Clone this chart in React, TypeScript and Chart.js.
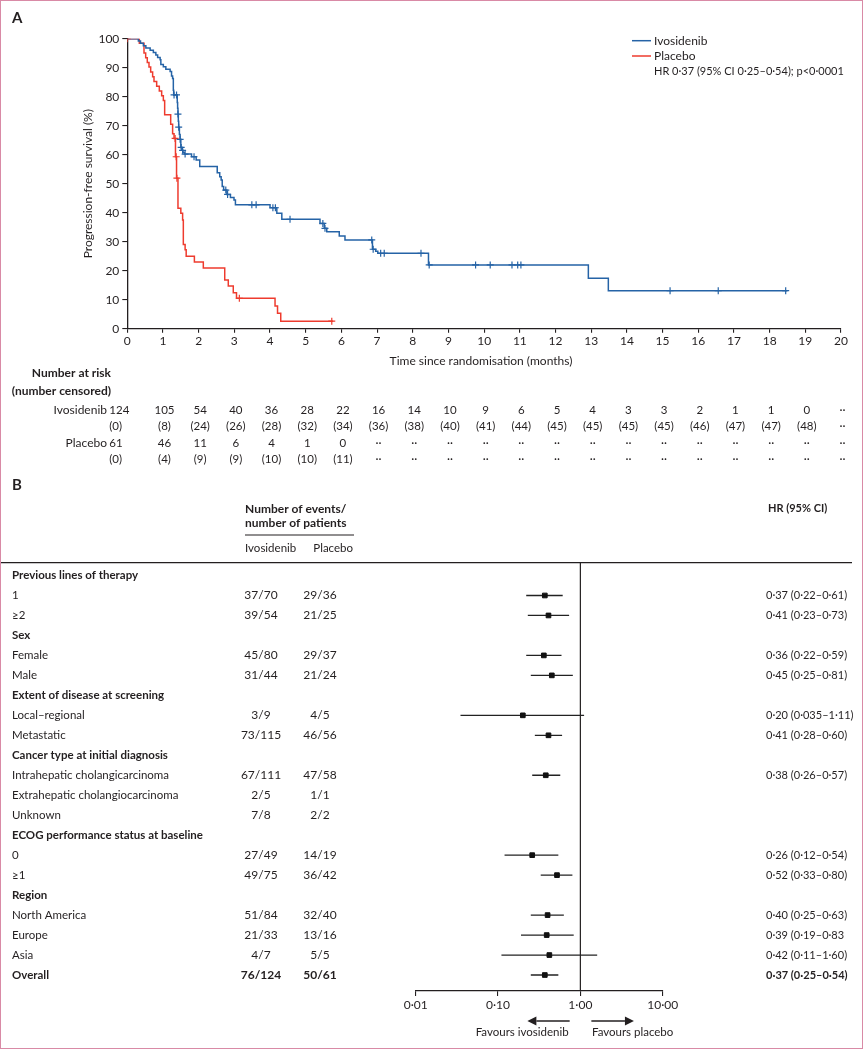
import React, { useEffect, useRef } from "react";
import { Chart, registerables } from "chart.js";

Chart.register(...registerables);

const FONT = "Lato, 'Noto Sans', sans-serif";
const INK = "#231f20";
const BLUE = "#2563a6";
const RED = "#ee3b2e";
const FRAME = "#d98aa6";

// ---------------- Panel A: Kaplan–Meier data ----------------
const kmXTicks = [0, 1, 2, 3, 4, 5, 6, 7, 8, 9, 10, 11, 12, 13, 14, 15, 16, 17, 18, 19, 20];
const kmYTicks = [0, 10, 20, 30, 40, 50, 60, 70, 80, 90, 100];

const ivoTimes = [0, 0.31, 0.37, 0.45, 0.52, 0.64, 0.73, 0.8, 0.85, 0.92, 0.94, 1.01, 1.08, 1.2, 1.24, 1.27, 1.29, 1.3, 1.4, 1.41, 1.42, 1.43, 1.44, 1.46, 1.48, 1.5, 1.53, 1.56, 1.6, 1.8, 1.93, 2.03, 2.52, 2.59, 2.63, 2.66, 2.7, 2.79, 2.89, 2.99, 3.03, 4.0, 4.19, 4.33, 5.4, 5.52, 5.59, 5.94, 6.1, 6.87, 6.96, 7.02, 8.44, 12.92, 13.48, 18.5];
const ivoSurv = [100, 99.2, 98.4, 97.6, 96.8, 96.0, 95.2, 94.4, 93.5, 92.7, 91.1, 90.3, 89.5, 88.7, 87.1, 86.3, 82.2, 80.6, 78.0, 76.0, 74.0, 71.5, 69.5, 67.0, 65.3, 62.5, 61.5, 60.8, 60.2, 59.3, 58.2, 55.9, 53.8, 52.4, 51.3, 49.0, 47.8, 46.3, 45.2, 44.4, 42.7, 41.7, 39.8, 37.7, 36.3, 34.6, 33.4, 32.0, 30.6, 27.4, 26.7, 26.0, 22.0, 17.4, 13.1, 13.1];
const ivoCensorTimes = [1.31, 1.38, 1.42, 1.44, 1.48, 1.51, 1.55, 1.62, 1.87, 2.76, 2.81, 3.49, 3.61, 4.08, 4.15, 4.56, 5.48, 5.54, 6.85, 6.89, 7.1, 7.2, 8.23, 8.46, 9.76, 10.17, 10.78, 10.94, 11.03, 15.21, 16.56, 18.45];

const plaTimes = [0, 0.337, 0.468, 0.515, 0.56, 0.608, 0.655, 0.71, 0.748, 0.823, 0.897, 0.963, 1.01, 1.047, 1.216, 1.27, 1.31, 1.35, 1.38, 1.42, 1.5, 1.55, 1.57, 1.62, 1.65, 1.88, 2.13, 2.73, 2.83, 2.97, 3.06, 4.14, 4.21, 4.3, 5.77];
const plaSurv = [100, 98.4, 95.1, 93.4, 91.8, 90.2, 88.5, 86.9, 85.2, 83.6, 82.0, 80.3, 78.7, 73.8, 70.5, 67.2, 65.6, 59.3, 51.9, 41.5, 39.8, 37.5, 29.0, 27.2, 25.0, 23.0, 20.9, 16.8, 14.7, 12.4, 10.5, 7.8, 5.3, 2.6, 2.6];
const plaCensorTimes = [0, 1.34, 1.37, 1.39, 3.14, 5.73];

const riskIvo = ["124", "105", "54", "40", "36", "28", "22", "16", "14", "10", "9", "6", "5", "4", "3", "3", "2", "1", "1", "0", "··"];
const censIvo = ["(0)", "(8)", "(24)", "(26)", "(28)", "(32)", "(34)", "(36)", "(38)", "(40)", "(41)", "(44)", "(45)", "(45)", "(45)", "(45)", "(46)", "(47)", "(47)", "(48)", "··"];
const riskPla = ["61", "46", "11", "6", "4", "1", "0", "··", "··", "··", "··", "··", "··", "··", "··", "··", "··", "··", "··", "··", "··"];
const censPla = ["(0)", "(4)", "(9)", "(9)", "(10)", "(10)", "(11)", "··", "··", "··", "··", "··", "··", "··", "··", "··", "··", "··", "··", "··", "··"];

// ---------------- Panel B: forest plot data ----------------
const subgroupLabels = [
  "Previous lines of therapy", "1", "≥2",
  "Sex", "Female", "Male",
  "Extent of disease at screening", "Local–regional", "Metastatic",
  "Cancer type at initial diagnosis", "Intrahepatic cholangicarcinoma", "Extrahepatic cholangiocarcinoma", "Unknown",
  "ECOG performance status at baseline", "0", "≥1",
  "Region", "North America", "Europe", "Asia",
  "Overall",
];
const subgroupBold = [true, false, false, true, false, false, true, false, false, true, false, false, false, true, false, false, true, false, false, false, true];
const ivoEvents = ["", "37/70", "39/54", "", "45/80", "31/44", "", "3/9", "73/115", "", "67/111", "2/5", "7/8", "", "27/49", "49/75", "", "51/84", "21/33", "4/7", "76/124"];
const plaEvents = ["", "29/36", "21/25", "", "29/37", "21/24", "", "4/5", "46/56", "", "47/58", "1/1", "2/2", "", "14/19", "36/42", "", "32/40", "13/16", "5/5", "50/61"];
const hrValues = [null, 0.37, 0.41, null, 0.36, 0.45, null, 0.2, 0.41, null, 0.38, null, null, null, 0.26, 0.52, null, 0.4, 0.39, 0.42, 0.37];
const hrLow = [null, 0.22, 0.23, null, 0.22, 0.25, null, 0.035, 0.28, null, 0.26, null, null, null, 0.12, 0.33, null, 0.25, 0.19, 0.11, 0.25];
const hrHigh = [null, 0.61, 0.73, null, 0.59, 0.81, null, 1.11, 0.6, null, 0.57, null, null, null, 0.54, 0.8, null, 0.63, 0.83, 1.6, 0.54];
const hrText = ["", "0·37 (0·22–0·61)", "0·41 (0·23–0·73)", "", "0·36 (0·22–0·59)", "0·45 (0·25–0·81)", "", "0·20 (0·035–1·11)", "0·41 (0·28–0·60)", "", "0·38 (0·26–0·57)", "", "", "", "0·26 (0·12–0·54)", "0·52 (0·33–0·80)", "", "0·40 (0·25–0·63)", "0·39 (0·19–0·83", "0·42 (0·11–1·60)", "0·37 (0·25–0·54)"];
const forestTicks = [0.01, 0.1, 1, 10];
const forestTickLabels = ["0·01", "0·10", "1·00", "10·00"];

// ---------------- helpers ----------------
function stepValue(T: number[], S: number[], t: number): number {
  let v = S[0];
  for (let i = 0; i < T.length; i++) if (T[i] <= t) v = S[i];
  return v;
}

function txt(
  ctx: CanvasRenderingContext2D,
  s: string,
  x: number,
  y: number,
  o: { size?: number; bold?: boolean; align?: CanvasTextAlign; color?: string } = {}
) {
  ctx.save();
  ctx.font = `${o.bold ? "bold " : ""}${o.size || 12}px ${FONT}`;
  ctx.fillStyle = o.color || INK;
  ctx.textAlign = o.align || "left";
  ctx.textBaseline = "middle";
  ctx.fillText(s, x, y);
  ctx.restore();
}

function line(ctx: CanvasRenderingContext2D, x1: number, y1: number, x2: number, y2: number, color: string, w: number) {
  ctx.save();
  ctx.strokeStyle = color;
  ctx.lineWidth = w;
  ctx.beginPath();
  ctx.moveTo(x1, y1);
  ctx.lineTo(x2, y2);
  ctx.stroke();
  ctx.restore();
}

function arrow(ctx: CanvasRenderingContext2D, x1: number, x2: number, y: number) {
  const dir = Math.sign(x2 - x1);
  const head = 9;
  line(ctx, x1, y, x2 - dir * head, y, INK, 1.3);
  ctx.save();
  ctx.fillStyle = INK;
  ctx.beginPath();
  ctx.moveTo(x2, y);
  ctx.lineTo(x2 - dir * head, y - 4.5);
  ctx.lineTo(x2 - dir * head, y + 4.5);
  ctx.closePath();
  ctx.fill();
  ctx.restore();
}

// ---------------- Panel A config ----------------
function kmConfig(): any {
  const curve = (T: number[], S: number[], color: string) => ({
    type: "line",
    data: T.map((t, i) => ({ x: t, y: S[i] })),
    borderColor: color,
    borderWidth: 1.5,
    pointRadius: 0,
    stepped: "before",
    fill: false,
    order: 2,
  });
  const censors = (C: number[], T: number[], S: number[], color: string) => ({
    type: "scatter",
    data: C.map((t) => ({ x: t, y: stepValue(T, S, t) })),
    pointStyle: "cross",
    pointRadius: 3.5,
    borderColor: color,
    borderWidth: 1.2,
    showLine: false,
    order: 1,
  });

  const textPlugin = {
    id: "kmText",
    afterDraw(chart: any) {
      const ctx = chart.ctx as CanvasRenderingContext2D;
      const xs = chart.scales.x;
      txt(ctx, "A", 12, 18, { bold: true, size: 15 });
      // legend
      line(ctx, 632, 40.7, 651, 40.7, BLUE, 1.5);
      line(ctx, 632, 56, 651, 56, RED, 1.5);
      txt(ctx, "Ivosidenib", 654, 40.7);
      txt(ctx, "Placebo", 654, 56);
      txt(ctx, "HR 0·37 (95% CI 0·25–0·54); p<0·0001", 654, 71.7, { size: 11 });
      // y title
      ctx.save();
      ctx.translate(88.5, 183.7);
      ctx.rotate(-Math.PI / 2);
      txt(ctx, "Progression-free survival (%)", 0, 0, { align: "center" });
      ctx.restore();
      // x title
      txt(ctx, "Time since randomisation (months)", 481, 361, { align: "center" });
      // number at risk
      txt(ctx, "Number at risk", 111, 373, { bold: true, align: "right" });
      txt(ctx, "(number censored)", 111, 391, { bold: true, align: "right" });
      txt(ctx, "Ivosidenib", 107, 410, { align: "right" });
      txt(ctx, "Placebo", 107, 443, { align: "right" });
      const rows: [string[], number][] = [
        [riskIvo, 410],
        [censIvo, 426.5],
        [riskPla, 443],
        [censPla, 459.5],
      ];
      rows.forEach(([arr, y]) => {
        arr.forEach((s, i) => {
          const px = xs.getPixelForValue(kmXTicks[i]);
          if (i === 0) txt(ctx, s, px - 18, y, { align: "left", size: 11.5 });
          else txt(ctx, s, px + 1.5, y, { align: "center", size: 11.5 });
        });
      });
    },
  };

  return {
    type: "scatter",
    data: {
      datasets: [
        censors(ivoCensorTimes, ivoTimes, ivoSurv, BLUE),
        censors(plaCensorTimes, plaTimes, plaSurv, RED),
        curve(ivoTimes, ivoSurv, BLUE),
        curve(plaTimes, plaSurv, RED),
      ],
    },
    options: {
      animation: false,
      responsive: false,
      devicePixelRatio: 1,
      events: [],
      layout: { padding: { left: 0, right: 22, top: 38.7, bottom: 0 } },
      plugins: { legend: { display: false }, tooltip: { enabled: false } },
      scales: {
        x: {
          type: "linear",
          min: 0,
          max: 20,
          afterBuildTicks: (s: any) => {
            s.ticks = kmXTicks.map((v) => ({ value: v }));
          },
          afterFit: (s: any) => {
            s.height = 141.3;
          },
          grid: { drawOnChartArea: false, drawTicks: true, tickLength: 4, color: INK, lineWidth: 1.1 },
          border: { display: true, color: INK, width: 1.3 },
          ticks: { color: INK, font: { size: 12, family: FONT }, padding: 1, maxRotation: 0, autoSkip: false },
        },
        y: {
          type: "linear",
          min: 0,
          max: 100,
          afterBuildTicks: (s: any) => {
            s.ticks = kmYTicks.map((v) => ({ value: v }));
          },
          afterFit: (s: any) => {
            s.width = 127.3;
          },
          grid: { drawOnChartArea: false, drawTicks: true, tickLength: 5, color: INK, lineWidth: 1.1 },
          border: { display: true, color: INK, width: 1.3 },
          ticks: { color: INK, font: { size: 12, family: FONT }, padding: 3, autoSkip: false },
        },
      },
    },
    plugins: [textPlugin],
  };
}

// ---------------- Panel B config ----------------
function forestConfig(): any {
  const rowsWithHR = hrValues.map((v, i) => i).filter((i) => hrValues[i] !== null);
  const squares = {
    type: "scatter",
    data: rowsWithHR.map((i) => ({ x: hrValues[i], y: i })),
    pointStyle: "rect",
    pointRadius: 3.3,
    backgroundColor: "#111",
    borderColor: "#111",
    borderWidth: 1,
  };
  const cis = rowsWithHR.map((i) => ({
    type: "scatter",
    showLine: true,
    data: [
      { x: hrLow[i], y: i },
      { x: hrHigh[i], y: i },
    ],
    borderColor: "#222",
    borderWidth: 1.3,
    pointRadius: 0,
  }));

  const textPlugin = {
    id: "forestText",
    beforeDatasetsDraw(chart: any) {
      const ctx = chart.ctx as CanvasRenderingContext2D;
      const xs = chart.scales.x;
      const area = chart.chartArea;
      line(ctx, 1, area.top, 852, area.top, INK, 1.2);
      const x1 = xs.getPixelForValue(1);
      line(ctx, x1, area.top, x1, area.bottom, INK, 1.2);
    },
    afterDraw(chart: any) {
      const ctx = chart.ctx as CanvasRenderingContext2D;
      const xs = chart.scales.x;
      const ys = chart.scales.y;
      txt(ctx, "B", 12, 15, { bold: true, size: 15 });
      txt(ctx, "Number of events/", 245, 39, { bold: true });
      txt(ctx, "number of patients", 245, 53.3, { bold: true });
      line(ctx, 245, 65, 354, 65, INK, 1.1);
      txt(ctx, "Ivosidenib", 245, 78.3, { size: 11.5 });
      txt(ctx, "Placebo", 313.3, 78.3, { size: 11.5 });
      txt(ctx, "HR (95% CI)", 768, 38.3, { bold: true, size: 11 });
      subgroupLabels.forEach((lab, i) => {
        const y = ys.getPixelForValue(i);
        const bold = subgroupBold[i];
        const isOverall = i === subgroupLabels.length - 1;
        txt(ctx, lab, 12, y, { bold, size: 11.5 });
        if (ivoEvents[i]) txt(ctx, ivoEvents[i], 261, y, { align: "center", bold: isOverall });
        if (plaEvents[i]) txt(ctx, plaEvents[i], 320, y, { align: "center", bold: isOverall });
        if (hrText[i]) txt(ctx, hrText[i], 766, y, { bold: isOverall, size: 11 });
      });
      const x1 = xs.getPixelForValue(1);
      arrow(ctx, x1 - 10.7, x1 - 53, 551);
      arrow(ctx, x1 + 11, x1 + 53.6, 551);
      txt(ctx, "Favours ivosidenib", x1 - 11.7, 562.7, { align: "right", size: 11.5 });
      txt(ctx, "Favours placebo", x1 + 11.6, 562.7, { align: "left", size: 11.5 });
    },
  };

  return {
    type: "scatter",
    data: { datasets: [squares, ...cis] },
    options: {
      animation: false,
      responsive: false,
      devicePixelRatio: 1,
      events: [],
      layout: { padding: { left: 415.7, right: 200.3, top: 92.7, bottom: 0 } },
      plugins: { legend: { display: false }, tooltip: { enabled: false } },
      scales: {
        x: {
          type: "logarithmic",
          min: 0.01,
          max: 10,
          afterBuildTicks: (s: any) => {
            s.ticks = forestTicks.map((v) => ({ value: v }));
          },
          afterFit: (s: any) => {
            s.height = 59;
          },
          grid: { drawOnChartArea: false, drawTicks: true, tickLength: 5, color: INK, lineWidth: 1.1 },
          border: { display: true, color: INK, width: 1.3 },
          ticks: {
            color: INK,
            font: { size: 12, family: FONT },
            padding: 2,
            maxRotation: 0,
            autoSkip: false,
            callback: (_v: any, i: number) => forestTickLabels[i],
          },
        },
        y: { type: "linear", min: -0.641, max: 20.8, reverse: true, display: false },
      },
    },
    plugins: [textPlugin],
  };
}

export default function App() {
  const aRef = useRef<HTMLCanvasElement>(null);
  const bRef = useRef<HTMLCanvasElement>(null);
  useEffect(() => {
    Chart.defaults.font.family = FONT;
    const a = new Chart(aRef.current as HTMLCanvasElement, kmConfig());
    const b = new Chart(bRef.current as HTMLCanvasElement, forestConfig());
    return () => {
      a.destroy();
      b.destroy();
    };
  }, []);
  return (
    <div style={{ position: "absolute", left: 0, top: 0, width: 863, height: 1050, background: "#fff" }}>
      <canvas ref={aRef} width={863} height={470} style={{ position: "absolute", left: 0, top: 0, width: 863, height: 470 }} />
      <canvas ref={bRef} width={863} height={580} style={{ position: "absolute", left: 0, top: 470, width: 863, height: 580 }} />
      <div
        style={{
          position: "absolute",
          left: 0,
          top: 0,
          width: 863,
          height: 1049,
          border: `1px solid ${FRAME}`,
          boxSizing: "border-box",
          pointerEvents: "none",
        }}
      />
    </div>
  );
}
